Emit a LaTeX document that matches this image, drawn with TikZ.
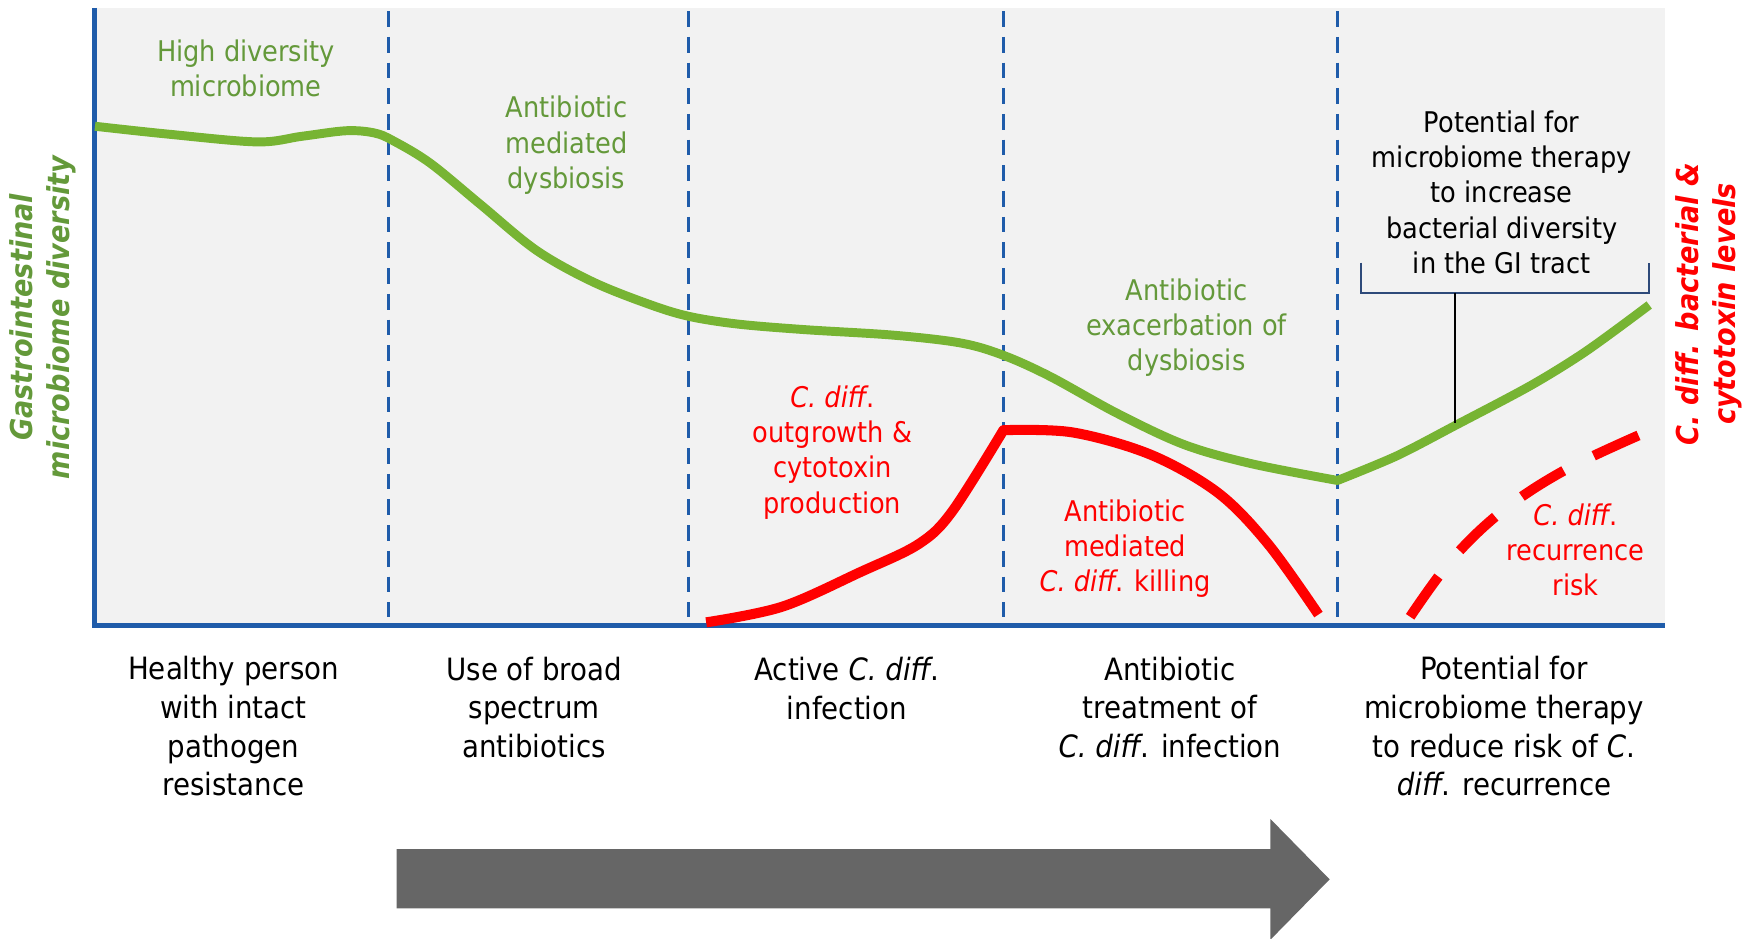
\documentclass[tikz,border=0pt]{standalone}
\usepackage{fontspec}
\setmainfont{DejaVu Sans Condensed}[
  BoldFont={DejaVu Sans Condensed Bold},
  ItalicFont={DejaVu Sans Condensed Oblique},
  BoldItalicFont={DejaVu Sans Condensed Bold Oblique}]

\definecolor{axisblue}{HTML}{1F5CAA}
\definecolor{curvegreen}{HTML}{77B433}
\definecolor{labelgreen}{HTML}{64993A}
\definecolor{bracketblue}{HTML}{2E4A7A}
\definecolor{panelgray}{HTML}{F2F2F2}
\definecolor{arrowgray}{HTML}{666666}

\newcommand\cdf{\textit{C. diff}.}

\tikzset{
  axisline/.style={draw=axisblue, line width=4.5pt},
  phaseline/.style={draw=axisblue, line width=2.6pt, dash pattern=on 14pt off 9pt},
  diversity/.style={draw=curvegreen, line width=8pt, line join=round},
  cdload/.style={draw=red, line width=9pt, line join=round},
  cdrisk/.style={draw=red, line width=9pt, dash pattern=on 44pt off 30pt},
  bracketline/.style={draw=bracketblue, line width=1.6pt},
  chartlbl/.style={font=\fontsize{25.5}{31.5}\selectfont, align=center, inner sep=0pt},
  phaselbl/.style={font=\fontsize{27.5}{34.5}\selectfont, align=center, inner sep=0pt, text=black},
  axislbl/.style={font=\fontsize{27}{33}\selectfont\bfseries\itshape, align=center, inner sep=0pt, rotate=90}
}

\begin{document}
\begin{tikzpicture}[x=1pt, y=-1pt]
\useasboundingbox (0,0) rectangle (1568,840);

% plotting area
\fill[panelgray] (85,7) rectangle (1490,560);

% phase separators
\foreach \px/\nm in {348/a, 616/b, 898/c, 1197/d}
  \draw[phaseline] (\px,10) coordinate (sep\nm top) -- (\px,552) coordinate (sep\nm bot);

% axes
\coordinate (origin) at (85,560);
\coordinate (ytop) at (85,7);
\coordinate (xend) at (1490,560);
\draw[axisline] (ytop) -- (85,562.25);
\draw[axisline] (82.75,560) -- (xend);

% microbiome diversity curve
\draw[diversity]
  plot[smooth, tension=0.55] coordinates {(85,113) (150,120) (230,127) (270,122) (310,117)
    (335,119) (352,126) (385,146) (430,183) (480,224) (530,252) (580,272) (616,283)
    (660,290) (720,295) (800,300) (860,307) (898,318) (940,337) (1000,370) (1060,398)
    (1120,415) (1197,430)}
  -- plot[smooth, tension=0.5] coordinates {(1197,430) (1250,408) (1302,381) (1370,345)
    (1420,314) (1476,273)};

% C. diff. burden curve
\draw[cdload]
  plot[smooth, tension=0.55] coordinates {(632,557) (700,543) (770,512) (822,487) (852,458) (898,385)}
  -- plot[smooth, tension=0.55] coordinates {(898,385) (960,387) (1030,407) (1090,441)
    (1135,487) (1180,550)};

% recurrence risk
\draw[cdrisk] plot[smooth, tension=0.6] coordinates {(1262,552) (1300,500) (1345,457)
  (1400,421) (1468,389)};

% bracket over the recovery phase
\coordinate (brl) at (1218,235);
\coordinate (brr) at (1476,235);
\coordinate (brstem) at (1302,262);
\coordinate (brfoot) at (1302,379);
\draw[bracketline] (brl) -- (1218,262) -- (1476,262) -- (brr);
\draw[black, line width=1.6pt] (brstem) -- (brfoot);

% labels inside the chart
\node[chartlbl, text=labelgreen] (hidiv) at (220,61) {High diversity\\microbiome};
\node[chartlbl, text=labelgreen] (abdys) at (507,130) {Antibiotic\\mediated\\dysbiosis};
\node[chartlbl, text=red] (outgr) at (745,405) {\cdf\\outgrowth \&\\cytotoxin\\production};
\node[chartlbl, text=labelgreen] (exac) at (1062,293) {Antibiotic\\exacerbation of\\dysbiosis};
\node[chartlbl, text=red] (kill) at (1007,491) {Antibiotic\\mediated\\\cdf{} killing};
\node[chartlbl, text=black] (ther) at (1344,172) {Potential for\\microbiome therapy\\to increase\\bacterial diversity\\in the GI tract};
\node[chartlbl, text=red] (recur) at (1410,492) {\cdf\\recurrence\\risk};

% axis titles
\node[axislbl, text=labelgreen] (ylbl) at (38,284) {Gastrointestinal\\microbiome diversity};
\node[axislbl, text=red] (y2lbl) at (1529,272) {\cdf{} bacterial \&\\cytotoxin levels};

% phase captions
\node[phaselbl] (p1) at (209,650) {Healthy person\\with intact\\pathogen\\resistance};
\node[phaselbl] (p2) at (478,633) {Use of broad\\spectrum\\antibiotics};
\node[phaselbl] (p3) at (758,616) {Active \cdf\\infection};
\node[phaselbl] (p4) at (1047,633) {Antibiotic\\treatment of\\\cdf{} infection};
\node[phaselbl] (p5) at (1346,650) {Potential for\\microbiome therapy\\to reduce risk of \textit{C}.\\\textit{diff}. recurrence};

% time arrow
\fill[arrowgray] (355,760) -- (1137,760) -- (1137,733) -- (1190,787) -- (1137,841)
  -- (1137,813) -- (355,813) -- cycle;
\end{tikzpicture}
\end{document}
